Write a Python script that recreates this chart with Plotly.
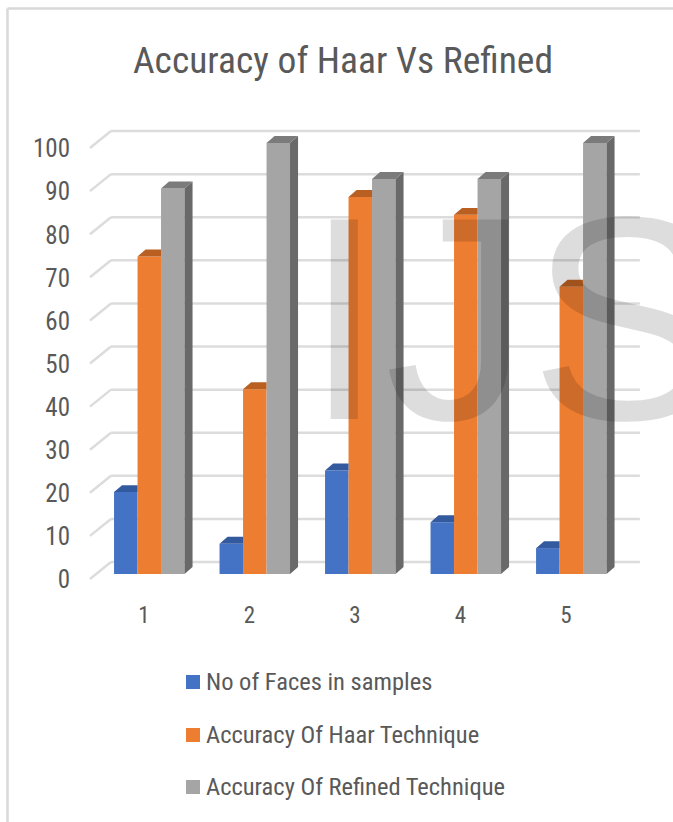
import plotly.graph_objects as go

# Chart data
categories = [1, 2, 3, 4, 5]
faces = [19, 7, 24, 12, 6]
haar_accuracy = [73.68, 42.86, 87.5, 83.33, 66.67]
refined_accuracy = [89.47, 100, 91.67, 91.67, 100]
y_ticks = list(range(0, 101, 10))
series_names = ["No of Faces in samples", "Accuracy Of Haar Technique", "Accuracy Of Refined Technique"]

FRONT = ["#4472C4", "#ED7D31", "#A5A5A5"]
TOP = ["#335A9E", "#B95F22", "#7B7B7B"]
SIDE = "#696969"
GRID = "#DCDCDC"
TEXT = "#595959"
FONT = "Roboto Condensed"

# Page layout of the plot area, in pixels
W, H = 673, 822
L, R, T, B = 78, 23, 120, 232
X_RANGE = [0.3744, 5.796]
Y_RANGE = [-3.712, 105.34]

# Bar geometry in axis units
BAR_W = 0.2227
OFFSETS = [-0.284, -0.0613, 0.1614]
DEPTH_X, DEPTH_Y = 0.076, 1.62

# Wall and floor geometry in axis units
WALL_FRONT_X, WALL_BACK_X, WALL_END_X = 0.488, 0.687, 5.70
WALL_FRONT_DY, WALL_BACK_DY = -1.16, 2.78


def paper_x(px):
    return (px - L) / (W - L - R)


def paper_y(px):
    return 1 - (px - T) / (H - T - B)


fig = go.Figure()
all_values = [faces, haar_accuracy, refined_accuracy]

# Front faces
for s, values in enumerate(all_values):
    fig.add_trace(go.Bar(
        x=categories, y=values, width=BAR_W, offset=OFFSETS[s],
        name=series_names[s], marker=dict(color=FRONT[s], line_width=0),
        showlegend=False,
    ))

# Depth faces of each bar; a neighbouring bar hides whatever lies behind it
for s, values in enumerate(all_values):
    last = s == len(all_values) - 1
    for c, h in zip(categories, values):
        x0 = c + OFFSETS[s]
        x1 = x0 + BAR_W
        if last:
            top_x = [x0, x1, x1 + DEPTH_X, x0 + DEPTH_X, x0]
            top_y = [h, h, h + DEPTH_Y, h + DEPTH_Y, h]
            fig.add_trace(go.Scatter(
                x=[x1, x1 + DEPTH_X, x1 + DEPTH_X, x1, x1],
                y=[0, DEPTH_Y, h + DEPTH_Y, h, 0],
                fill="toself", fillcolor=SIDE, mode="none",
                hoverinfo="skip", showlegend=False,
            ))
        else:
            top_x = [x0, x1, x1, x0 + DEPTH_X, x0]
            top_y = [h, h, h + DEPTH_Y, h + DEPTH_Y, h]
        fig.add_trace(go.Scatter(
            x=top_x, y=top_y, fill="toself", fillcolor=TOP[s], mode="none",
            hoverinfo="skip", showlegend=False,
        ))

shapes = []

# Back wall gridlines with their floor-side returns
for v in y_ticks:
    shapes.append(dict(type="line", layer="below", xref="x", yref="y",
                       x0=WALL_BACK_X, x1=WALL_END_X,
                       y0=v + WALL_BACK_DY, y1=v + WALL_BACK_DY,
                       line=dict(color=GRID, width=2.5)))
    shapes.append(dict(type="line", layer="below", xref="x", yref="y",
                       x0=WALL_FRONT_X, x1=WALL_BACK_X,
                       y0=v + WALL_FRONT_DY, y1=v + WALL_BACK_DY,
                       line=dict(color=GRID, width=2.5)))

# Chart frame along the top and left edges
shapes.append(dict(type="line", layer="below", xref="paper", yref="paper",
                   x0=paper_x(7.5), x1=paper_x(673), y0=paper_y(8.5), y1=paper_y(8.5),
                   line=dict(color="#D9D9D9", width=2.5)))
shapes.append(dict(type="line", layer="below", xref="paper", yref="paper",
                   x0=paper_x(7.5), x1=paper_x(7.5), y0=paper_y(8.5), y1=paper_y(822),
                   line=dict(color="#D9D9D9", width=2.5)))

annotations = []

# Legend entries
for name, colour, cy in zip(series_names, FRONT, [682, 735, 787]):
    shapes.append(dict(type="rect", xref="paper", yref="paper",
                       x0=paper_x(186), x1=paper_x(200),
                       y0=paper_y(cy - 7), y1=paper_y(cy + 7),
                       fillcolor=colour, line_width=0))
    annotations.append(dict(xref="paper", yref="paper", x=paper_x(204), y=paper_y(cy - 1),
                            xanchor="left", yanchor="middle", showarrow=False, text=name,
                            font=dict(family=FONT, size=24.5, color=TEXT)))

# Large translucent lettering across the plot
annotations.append(dict(xref="paper", yref="paper", x=paper_x(302), y=paper_y(318),
                        xanchor="left", yanchor="middle", showarrow=False, text="IJS",
                        font=dict(family="Liberation Sans", size=290, color="rgba(0,0,0,0.135)")))

fig.update_layout(
    width=W, height=H,
    margin=dict(l=L, r=R, t=T, b=B),
    paper_bgcolor="white", plot_bgcolor="rgba(0,0,0,0)",
    barmode="overlay", showlegend=False,
    title=dict(text="Accuracy of Haar Vs Refined", x=343 / W, xanchor="center",
               y=1 - 60 / H, yanchor="middle",
               font=dict(family=FONT, size=37.5, color=TEXT)),
    xaxis=dict(range=X_RANGE, tickmode="array", tickvals=categories, ticktext=[str(c) for c in categories],
               showgrid=False, zeroline=False, showline=False,
               ticks="outside", ticklen=4, tickcolor="rgba(0,0,0,0)",
               tickfont=dict(family=FONT, size=23, color=TEXT)),
    # Tick labels sit slightly below their bar-height positions
    yaxis=dict(range=Y_RANGE, tickmode="array", tickvals=[v - 1.3 for v in y_ticks],
               ticktext=[str(v) for v in y_ticks],
               showgrid=False, zeroline=False, showline=False,
               ticks="outside", ticklen=2, tickcolor="rgba(0,0,0,0)",
               tickfont=dict(family=FONT, size=25, color=TEXT)),
    shapes=shapes, annotations=annotations,
)

fig.write_html("out.html")
